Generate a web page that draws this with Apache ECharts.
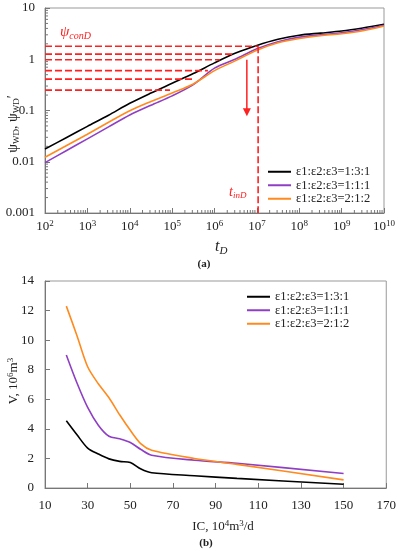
<!DOCTYPE html>
<html><head><meta charset="utf-8">
<script src="https://cdn.jsdelivr.net/npm/echarts@6/dist/echarts.min.js"></script>
<style>html,body{margin:0;padding:0;background:#fff}#c{width:399px;height:550px}</style>
</head><body><div id="c"></div>
<script>
// ---- chart (a) data ----
const tD = [1e2, 3.162e2, 1e3, 3.162e3, 1e4, 3.162e4, 1e5, 3.162e5, 1e6, 3.162e6, 1e7, 3.162e7, 1e8, 3.162e8, 1e9, 3.162e9, 1e10];
const psi131 = [0.0177, 0.0295, 0.049, 0.081, 0.138, 0.219, 0.339, 0.525, 0.85, 1.32, 1.86, 2.45, 2.95, 3.24, 3.55, 4.07, 4.8];
const psi111 = [0.0096, 0.0164, 0.028, 0.048, 0.082, 0.127, 0.193, 0.32, 0.67, 1.01, 1.6, 2.2, 2.7, 3.0, 3.3, 3.8, 4.6];
const psi212 = [0.0122, 0.0205, 0.0344, 0.059, 0.099, 0.15, 0.22, 0.33, 0.6, 0.94, 1.5, 2.1, 2.55, 2.88, 3.15, 3.6, 4.45];
const refLevels = [1.79, 1.26, 0.98, 0.6, 0.41, 0.25];
const refEnds = [1.07e7, 3.0e6, 1.35e6, 7.0e5, 3.1e5, 8.9e4];
const tInD = 1.07e7;
const arrowT = 5.8e6, arrowFrom = 0.98, arrowTo = 0.1;
const names = ['ε1:ε2:ε3=1:3:1', 'ε1:ε2:ε3=1:1:1', 'ε1:ε2:ε3=2:1:2'];
// ---- chart (b) data ----
const ic = [20, 25, 30, 35, 40, 45, 50, 55, 60, 80, 100, 150];
const v131 = [4.55, 3.6, 2.7, 2.3, 1.97, 1.8, 1.72, 1.28, 1.03, 0.83, 0.65, 0.25];
const v111 = [9.0, 7.1, 5.45, 4.25, 3.5, 3.33, 3.08, 2.6, 2.22, 1.88, 1.67, 0.98];
const v212 = [12.3, 10.3, 8.2, 7.05, 6.1, 4.95, 3.9, 2.98, 2.55, 2.0, 1.6, 0.55];

const colors = ['#000000', '#8f3fc4', '#ff8a1e'];
const RED = '#ff2020';
const SERIF = "'Liberation Serif', 'Times New Roman', serif";

const minorX = [], minorY = [];
for (let e = 2; e < 10; e++) for (let m = 2; m <= 9; m++) minorX.push([m * Math.pow(10, e), 1]);
for (let e = -3; e < 1; e++) for (let m = 2; m <= 9; m++) minorY.push([1e3, m * Math.pow(10, e)]);

const chart = echarts.init(document.getElementById('c'), null, {renderer: 'canvas'});
const axisLabelStyle = {fontFamily: SERIF, fontSize: 13, color: '#222'};
const axisLineStyle = {lineStyle: {color: '#777', width: 1}};
const supRich = (size, color) => ({
  b: {fontFamily: SERIF, fontSize: size, lineHeight: size + 3, color: color, fill: color},
  p: {fontFamily: SERIF, fontSize: Math.round(size * 0.68), lineHeight: Math.round(size * 0.68), verticalAlign: 'top', color: color, fill: color}
});

const series = [];
[psi131, psi111, psi212].forEach((arr, i) => {
  series.push({name: names[i], type: 'line', xAxisIndex: 0, yAxisIndex: 0, data: tD.map((t, k) => [t, arr[k]]),
    showSymbol: false, symbol: 'none', smooth: 0.3, lineStyle: {color: colors[i], width: 1.6}, itemStyle: {color: colors[i]}, silent: true, z: 3});
});
refLevels.forEach((lv, i) => {
  series.push({type: 'line', xAxisIndex: 0, yAxisIndex: 0, data: [[1e2, lv], [refEnds[i], lv]], symbol: 'none', silent: true,
    lineStyle: {color: RED, width: 1.6, type: [7, 3]}, z: 4});
});
series.push({type: 'line', xAxisIndex: 0, yAxisIndex: 0, data: [[tInD, refLevels[0]], [tInD, 1e-3]], symbol: 'none', silent: true,
  lineStyle: {color: RED, width: 1.6, type: [7, 3]}, z: 4});
series.push({type: 'line', xAxisIndex: 0, yAxisIndex: 0, data: [[arrowT, arrowFrom], [arrowT, arrowTo]], symbol: 'none', silent: true,
  lineStyle: {color: RED, width: 1.5}, z: 4,
  markPoint: {silent: true, symbol: 'triangle', symbolRotate: 180, symbolSize: [8, 8], itemStyle: {color: RED}, label: {show: false},
    data: [{coord: [arrowT, 0.092]}]}});
function tickRender(axis) {
  return function (params, api) {
    const cs = params.coordSys;
    const p = api.coord([api.value(0), api.value(1)]);
    if (axis === 'x') {
      const yb = cs.y + cs.height;
      return {type: 'line', shape: {x1: p[0], y1: yb, x2: p[0], y2: yb - 3}, style: {stroke: '#777', lineWidth: 1}};
    }
    return {type: 'line', shape: {x1: cs.x, y1: p[1], x2: cs.x + 3, y2: p[1]}, style: {stroke: '#777', lineWidth: 1}};
  };
}
series.push({type: 'custom', xAxisIndex: 0, yAxisIndex: 0, data: minorX, renderItem: tickRender('x'), silent: true, clip: false, z: 2});
series.push({type: 'custom', xAxisIndex: 0, yAxisIndex: 0, data: minorY, renderItem: tickRender('y'), silent: true, clip: false, z: 2});
[v131, v111, v212].forEach((arr, i) => {
  series.push({name: names[i], type: 'line', xAxisIndex: 1, yAxisIndex: 1, data: ic.map((x, k) => [x, arr[k]]),
    showSymbol: false, symbol: 'none', smooth: 0.3, lineStyle: {color: colors[i], width: 1.6}, itemStyle: {color: colors[i]}, silent: true});
});

const legendBase = {orient: 'vertical', icon: 'rect', itemWidth: 23, itemHeight: 2, itemGap: 0, padding: 0, selectedMode: false,
  textStyle: {fontFamily: SERIF, fontSize: 12.5, color: '#222', lineHeight: 13.5, height: 13.5}, data: names};

const richSub = (size, color, italic) => ({
  a: {fontFamily: SERIF, fontSize: size, lineHeight: size + 3, fill: color, color: color, fontStyle: italic ? 'italic' : 'normal'},
  s: {fontFamily: SERIF, fontSize: Math.round(size * 0.66), lineHeight: Math.round(size * 0.66) + 1, verticalAlign: 'bottom', fill: color, color: color, fontStyle: italic ? 'italic' : 'normal'}
});
function txt(x, y, text, opts) {
  return Object.assign({type: 'text', x: x, y: y, silent: true, z: 100,
    style: Object.assign({text: text, fill: '#222', font: '13px ' + SERIF, align: 'center', verticalAlign: 'middle', textAlign: 'center', textVerticalAlign: 'middle'}, opts.style || {})},
    opts.el || {});
}

chart.setOption({
  animation: false,
  backgroundColor: '#fff',
  grid: [
    {left: 45, top: 8, width: 339, height: 205, show: true, borderColor: '#999', borderWidth: 1, backgroundColor: 'transparent'},
    {left: 45, top: 281, width: 343, height: 207, show: true, borderColor: '#999', borderWidth: 1, backgroundColor: 'transparent'}
  ],
  xAxis: [
    {type: 'log', logBase: 10, gridIndex: 0, min: 1e2, max: 1e10, interval: 1, splitNumber: 8,
      axisLine: axisLineStyle, axisTick: {show: true, inside: true, length: 5, lineStyle: {color: '#777'}}, splitLine: {show: false},
      axisLabel: Object.assign({margin: 6, formatter: v => '{b|10}{p|' + Math.round(Math.log10(v)) + '}', rich: supRich(13, '#222')}, axisLabelStyle)},
    {type: 'value', gridIndex: 1, min: 10, max: 170, interval: 20,
      axisLine: axisLineStyle, axisTick: {show: true, inside: true, length: 5, lineStyle: {color: '#777'}}, splitLine: {show: false},
      axisLabel: Object.assign({margin: 11}, axisLabelStyle)}
  ],
  yAxis: [
    {type: 'log', logBase: 10, gridIndex: 0, min: 1e-3, max: 10, interval: 1, splitNumber: 4,
      axisLine: axisLineStyle, axisTick: {show: true, inside: true, length: 5, lineStyle: {color: '#777'}}, splitLine: {show: false},
      axisLabel: Object.assign({margin: 10, formatter: v => String(+Number(v).toPrecision(3))}, axisLabelStyle)},
    {type: 'value', gridIndex: 1, min: 0, max: 14, interval: 2,
      axisLine: axisLineStyle, axisTick: {show: true, inside: true, length: 5, lineStyle: {color: '#777'}}, splitLine: {show: false},
      axisLabel: Object.assign({margin: 11}, axisLabelStyle)}
  ],
  legend: [
    Object.assign({left: 268, top: 165}, legendBase),
    Object.assign({left: 247, top: 290}, legendBase)
  ],
  graphic: [
    txt(13, 124, '{a|ψ}{s|WD}{a|, ψ}{s|WD}{a|\u2032}', {el: {rotation: Math.PI / 2}, style: {rich: richSub(14, '#222', false)}}),
    txt(60, 32, '{a|ψ}{s|conD}', {style: {align: 'left', textAlign: 'left', rich: richSub(15, RED, true)}}),
    txt(229, 192, '{a|t}{s|inD}', {style: {align: 'left', textAlign: 'left', rich: richSub(14, RED, true)}}),
    txt(215, 247, '{a|t}{s|D}', {style: {align: 'left', textAlign: 'left', rich: richSub(16, '#222', true)}}),
    txt(204, 264, '(a)', {style: {font: 'bold 11px ' + SERIF}}),
    txt(14, 381, '{b|V, 10}{p|6}{b|m}{p|3}', {el: {rotation: Math.PI / 2}, style: {rich: supRich(13, '#222')}}),
    txt(223, 527, '{b|IC, 10}{p|4}{b|m}{p|3}{b|/d}', {style: {rich: supRich(13, '#222')}}),
    txt(206, 543, '(b)', {style: {font: 'bold 11px ' + SERIF}})
  ],
  series: series
});
</script></body></html>
